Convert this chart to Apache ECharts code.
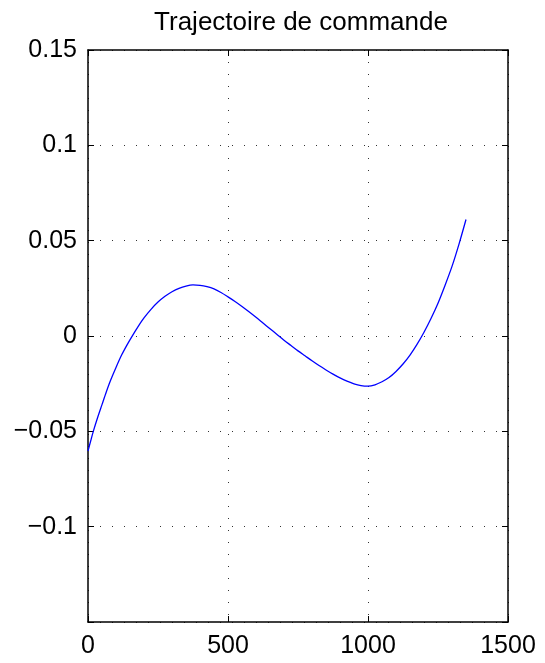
<!DOCTYPE html>
<html>
<head>
<meta charset="utf-8">
<script src="https://cdn.jsdelivr.net/npm/echarts@6/dist/echarts.min.js"></script>
<style>html,body{margin:0;padding:0;background:#fff;}#c{width:545px;height:663px;}</style>
</head>
<body>
<div id="c"></div>
<script>
const titleText = 'Trajectoire de commande';
const xValues = [0, 10, 20, 35, 50, 65, 80, 100, 120, 140, 160, 180, 200, 225, 250, 275, 300, 325, 350, 375, 400, 425, 450, 475, 500, 525, 550, 575, 600, 625, 650, 675, 700, 725, 750, 775, 800, 825, 850, 875, 900, 925, 950, 975, 1000, 1025, 1050, 1075, 1100, 1125, 1150, 1175, 1200, 1225, 1250, 1275, 1300, 1325, 1350];
const yValues = [-0.0603, -0.0548, -0.0495, -0.0425, -0.0360, -0.0295, -0.0235, -0.0165, -0.0100, -0.0045, 0.0005, 0.0052, 0.0095, 0.0140, 0.0178, 0.0208, 0.0232, 0.0250, 0.0262, 0.0268, 0.0266, 0.0259, 0.0247, 0.0228, 0.0205, 0.0181, 0.0155, 0.0127, 0.0098, 0.0068, 0.0038, 0.0008, -0.0022, -0.0050, -0.0078, -0.0104, -0.0130, -0.0155, -0.0178, -0.0200, -0.0220, -0.0237, -0.0251, -0.0260, -0.0263, -0.0256, -0.0240, -0.0218, -0.0186, -0.0147, -0.0100, -0.0044, 0.0020, 0.0092, 0.0172, 0.0265, 0.0365, 0.0482, 0.0611];
const xTicks = [0, 500, 1000, 1500];
const yTicks = [-0.15, -0.1, -0.05, 0, 0.05, 0.1, 0.15];

const data = xValues.map((x, i) => [x, yValues[i]]);
const font = 'Liberation Sans, Arial, Helvetica, sans-serif';
const fmtY = v => {
  if (Math.abs(v - yTicks[0]) < 1e-9) return '';
  const r = Math.round(v * 100) / 100;
  if (r === 0) return '0';
  return (r < 0 ? '\u2212' : '') + String(Math.abs(r));
};
const gridDot = { show: true, lineStyle: { color: '#333', width: 1, type: [1, 11] } };
const boxAxis = (pos) => ({
  axisLine: { show: true, onZero: false, lineStyle: { color: '#000', width: 1.5 } },
  axisTick: { show: true, inside: true, length: 6, lineStyle: { color: '#000', width: 1 } },
  position: pos
});
const chart = echarts.init(document.getElementById('c'), null, { renderer: 'canvas' });
chart.setOption({
  animation: false,
  backgroundColor: '#fff',
  title: {
    text: titleText, left: 296, top: 5, textAlign: 'center',
    textStyle: { fontFamily: font, fontWeight: 'normal', fontSize: 26, color: '#000' }
  },
  grid: { left: 88, right: 37, top: 50, bottom: 41, containLabel: false },
  xAxis: [Object.assign({
    type: 'value', min: xTicks[0], max: xTicks[xTicks.length - 1], interval: 500,
    axisLabel: { fontFamily: font, fontSize: 25, color: '#000', margin: 12, formatter: v => String(v) },
    splitLine: gridDot
  }, boxAxis('bottom')), Object.assign({
    type: 'value', min: xTicks[0], max: xTicks[xTicks.length - 1], interval: 500,
    axisLabel: { show: false }, splitLine: { show: false }
  }, boxAxis('top'))],
  yAxis: [Object.assign({
    type: 'value', min: yTicks[0], max: yTicks[yTicks.length - 1], interval: 0.05,
    axisLabel: { fontFamily: font, fontSize: 25, color: '#000', margin: 11, formatter: fmtY },
    splitLine: gridDot
  }, boxAxis('left')), Object.assign({
    type: 'value', min: yTicks[0], max: yTicks[yTicks.length - 1], interval: 0.05,
    axisLabel: { show: false }, splitLine: { show: false }
  }, boxAxis('right'))],
  series: [{
    type: 'line', data: data, xAxisIndex: 0, yAxisIndex: 0,
    smooth: 0.3, showSymbol: false, symbol: 'none',
    lineStyle: { color: '#0000ff', width: 1.3 }
  }]
});
</script>
</body>
</html>
